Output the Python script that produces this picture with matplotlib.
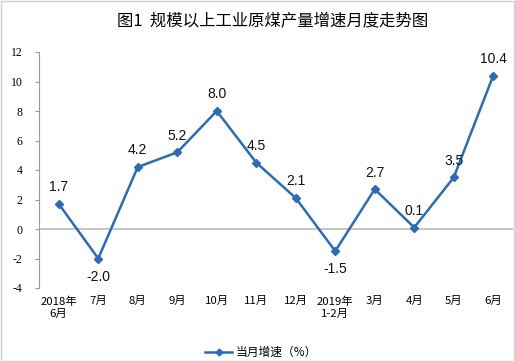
import matplotlib
matplotlib.use("Agg")
import matplotlib.pyplot as plt
from matplotlib.patches import Rectangle

# 数据
meses = ["2018年\n6月", "7月", "8月", "9月", "10月", "11月", "12月",
         "2019年\n1-2月", "3月", "4月", "5月", "6月"]
crecimiento = [1.7, -2.0, 4.2, 5.2, 8.0, 4.5, 2.1, -1.5, 2.7, 0.1, 3.5, 10.4]
debajo = [False, True, False, False, False, False, False, True, False, False, False, False]
yticks = [-4, -2, 0, 2, 4, 6, 8, 10, 12]

cjk = ["Noto Sans CJK SC", "DejaVu Sans"]
azul = "#2B6CB5"

fig = plt.figure(figsize=(5.15, 3.62), dpi=100)
ax = fig.add_axes([39 / 515, 1 - 288 / 362, 474 / 515, 236 / 362])

x = list(range(len(crecimiento)))
ax.plot(x, crecimiento, color=azul, lw=1.8, marker="D", ms=4.5,
        markerfacecolor=azul, markeredgecolor=azul)

for i, v in enumerate(crecimiento):
    off = -13 if debajo[i] else 12
    ax.annotate(f"{v:.1f}", (i, v), xytext=(0, off), textcoords="offset points",
                ha="center", va="center", fontsize=10, family="Liberation Sans",
                color="#111111")

ax.set_xlim(-0.5, 11.5)
ax.set_ylim(-4, 12)
ax.set_yticks(yticks)
ax.set_yticklabels([str(t) for t in yticks], family="Liberation Serif", fontsize=8.5)
ax.axhline(0, color="#BBBBBB", lw=1.2, zorder=0)

for s in ["top", "right", "bottom"]:
    ax.spines[s].set_visible(False)
ax.spines["left"].set_color("#999999")
ax.tick_params(axis="y", direction="out", length=3, color="#999999", pad=9)
ax.tick_params(axis="x", length=0, pad=6)
ax.set_xticks(x)
ax.set_xticklabels(meses, family=cjk, fontsize=8.2, linespacing=1.25, va="top")

fig.text(0.53, 1 - 22 / 362, "图1  规模以上工业原煤产量增速月度走势图",
         ha="center", va="center", fontsize=11.8, family=cjk)

# 图例
lx, ly = 205 / 515, 1 - 352 / 362
fig.add_artist(plt.Line2D([lx, lx + 27 / 515], [ly, ly], color=azul, lw=1.8,
                          transform=fig.transFigure))
fig.add_artist(plt.Line2D([lx + 13.5 / 515], [ly], color=azul, marker="D", ms=3.5,
                          lw=0, transform=fig.transFigure))
fig.text(lx + 31 / 515, ly, "当月增速（%）", ha="left", va="center",
         fontsize=8.5, family=cjk)

fig.add_artist(Rectangle((0.002, 0.003), 0.996, 0.994, transform=fig.transFigure,
                         fill=False, ec="#D0D0D0", lw=1))

fig.savefig("out.png", dpi=100)
